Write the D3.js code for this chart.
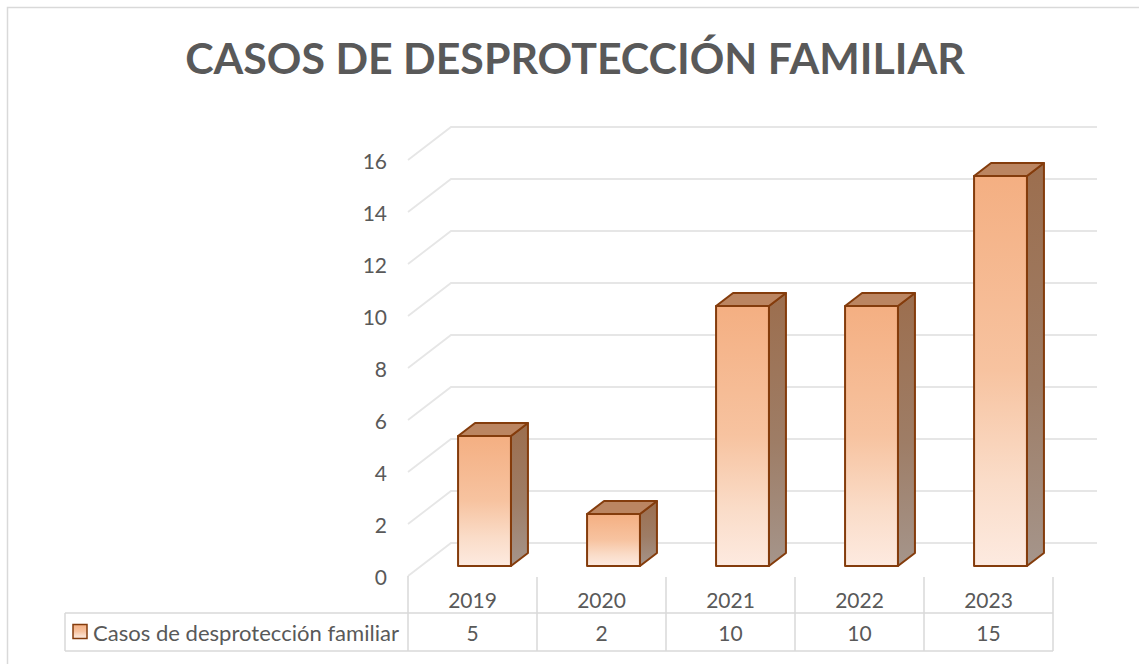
<!DOCTYPE html>
<html>
<head>
<meta charset="utf-8">
<script src="https://cdn.jsdelivr.net/npm/d3@7"></script>
<style>
  html, body { margin: 0; padding: 0; background: #fff; }
  svg { display: block; }
  text { font-family: Lato, "Open Sans", sans-serif; fill: #595959; }
</style>
</head>
<body>
<svg id="chart" width="1139" height="664"></svg>
<script>
// ---- data ----
const title = "CASOS DE DESPROTECCIÓN FAMILIAR";
const seriesName = "Casos de desprotección familiar";
const categories = ["2019", "2020", "2021", "2022", "2023"];
const values = [5, 2, 10, 10, 15];
const yTicks = [0, 2, 4, 6, 8, 10, 12, 14, 16];

// ---- layout ----
const svg = d3.select("#chart");
const W = 1139, H = 664;
const plotLeft = 408, plotRight = 1053;
const backDX = 43, backDY = -33;      // depth of back wall
const barDX0 = 12, barDY0 = -10;      // bar front plane offset
const barDepthX = 17, barDepthY = -13;
const gridEnd = 1097;

const x = d3.scaleBand().domain(categories).range([plotLeft, plotRight]);
const y = d3.scaleLinear().domain([0, 16]).range([576, 160]);

// defs: gradients
const defs = svg.append("defs");
const gFront = defs.append("linearGradient").attr("id", "gFront")
  .attr("x1", 0).attr("y1", 0).attr("x2", 0).attr("y2", 1);
[[0, "#F4AF82"], [0.5, "#F7C3A0"], [0.78, "#FADCC8"], [1, "#FDEAE0"]]
  .forEach(([o, c]) => gFront.append("stop").attr("offset", o).attr("stop-color", c));
const gSide = defs.append("linearGradient").attr("id", "gSide")
  .attr("x1", 0).attr("y1", 0).attr("x2", 0).attr("y2", 1);
[[0, "#9C6E4E"], [0.55, "#9E7D66"], [1, "#A5958B"]]
  .forEach(([o, c]) => gSide.append("stop").attr("offset", o).attr("stop-color", c));

// outer border
svg.append("rect").attr("x", 7.5).attr("y", 7.5).attr("width", W + 10).attr("height", H + 10)
  .attr("fill", "none").attr("stroke", "#D9D9D9").attr("stroke-width", 1.5);

// title (fit to reference width)
const t = svg.append("text").text(title)
  .attr("x", 575).attr("y", 74).attr("text-anchor", "middle")
  .style("font-weight", 700).style("font-size", "44px");
{
  const w = t.node().getComputedTextLength();
  t.style("font-size", (44 * 780 / w) + "px");
}

// gridlines (perspective)
const grid = svg.append("g").attr("fill", "none").attr("stroke", "#E6E6E6").attr("stroke-width", 1.8);
yTicks.forEach(v => {
  const yf = y(v);
  grid.append("path").attr("d", d3.line()([
    [plotLeft, yf], [plotLeft + backDX, yf + backDY], [gridEnd, yf + backDY]
  ]));
});

// y tick labels
svg.append("g").selectAll("text").data(yTicks).join("text")
  .attr("x", 387).attr("y", d => y(d)).attr("text-anchor", "end")
  .attr("dominant-baseline", "central").style("font-size", "21px")
  .text(d => d);

// bars
const bw = x.bandwidth() * 0.41;
const barsG = svg.append("g").attr("stroke", "#843C0C").attr("stroke-width", 2)
  .attr("stroke-linejoin", "round");
categories.forEach((c, i) => {
  const cx = x(c) + x.bandwidth() / 2 + barDX0;
  const xl = cx - bw / 2, xr = cx + bw / 2;
  const yb = y(0) + barDY0, yt = y(values[i]) + barDY0;
  const g = barsG.append("g");
  // side
  g.append("path").attr("fill", "url(#gSide)").attr("d", d3.line()([
    [xr, yt], [xr + barDepthX, yt + barDepthY], [xr + barDepthX, yb + barDepthY], [xr, yb]
  ]) + "Z");
  // top
  g.append("path").attr("fill", "#BB8561").attr("d", d3.line()([
    [xl, yt], [xl + barDepthX, yt + barDepthY], [xr + barDepthX, yt + barDepthY], [xr, yt]
  ]) + "Z");
  // front
  g.append("rect").attr("fill", "url(#gFront)")
    .attr("x", xl).attr("y", yt).attr("width", bw).attr("height", yb - yt);
});

// data table
const tbl = svg.append("g").attr("stroke", "#D9D9D9").attr("stroke-width", 1.5).attr("fill", "none");
const rowTop = 613, rowBot = 651, tblLeft = 65;
tbl.append("line").attr("x1", plotLeft).attr("x2", plotLeft).attr("y1", y(0)).attr("y2", rowBot);
categories.forEach(c => {
  const xe = x(c) + x.bandwidth();
  tbl.append("line").attr("x1", xe).attr("x2", xe).attr("y1", 577).attr("y2", rowBot);
});
tbl.append("line").attr("x1", tblLeft).attr("x2", plotRight).attr("y1", rowTop).attr("y2", rowTop);
tbl.append("line").attr("x1", tblLeft).attr("x2", plotRight).attr("y1", rowBot).attr("y2", rowBot);
tbl.append("line").attr("x1", tblLeft).attr("x2", tblLeft).attr("y1", rowTop).attr("y2", rowBot);

svg.append("g").selectAll("text").data(categories).join("text")
  .attr("x", d => x(d) + x.bandwidth() / 2).attr("y", 599)
  .attr("text-anchor", "middle").attr("dominant-baseline", "central")
  .style("font-size", "21px").text(d => d);
svg.append("g").selectAll("text").data(values).join("text")
  .attr("x", (d, i) => x(categories[i]) + x.bandwidth() / 2).attr("y", 632)
  .attr("text-anchor", "middle").attr("dominant-baseline", "central")
  .style("font-size", "21px").text(d => d);

// legend key + series name
svg.append("rect").attr("x", 73).attr("y", 624.5).attr("width", 14).attr("height", 14)
  .attr("fill", "url(#gFront)").attr("stroke", "#843C0C").attr("stroke-width", 1.5);
const lt = svg.append("text").text(seriesName)
  .attr("x", 93).attr("y", 632).attr("dominant-baseline", "central")
  .style("font-size", "20px");
{
  const w = lt.node().getComputedTextLength();
  lt.style("font-size", (20 * 306 / w) + "px");
}
</script>
</body>
</html>
